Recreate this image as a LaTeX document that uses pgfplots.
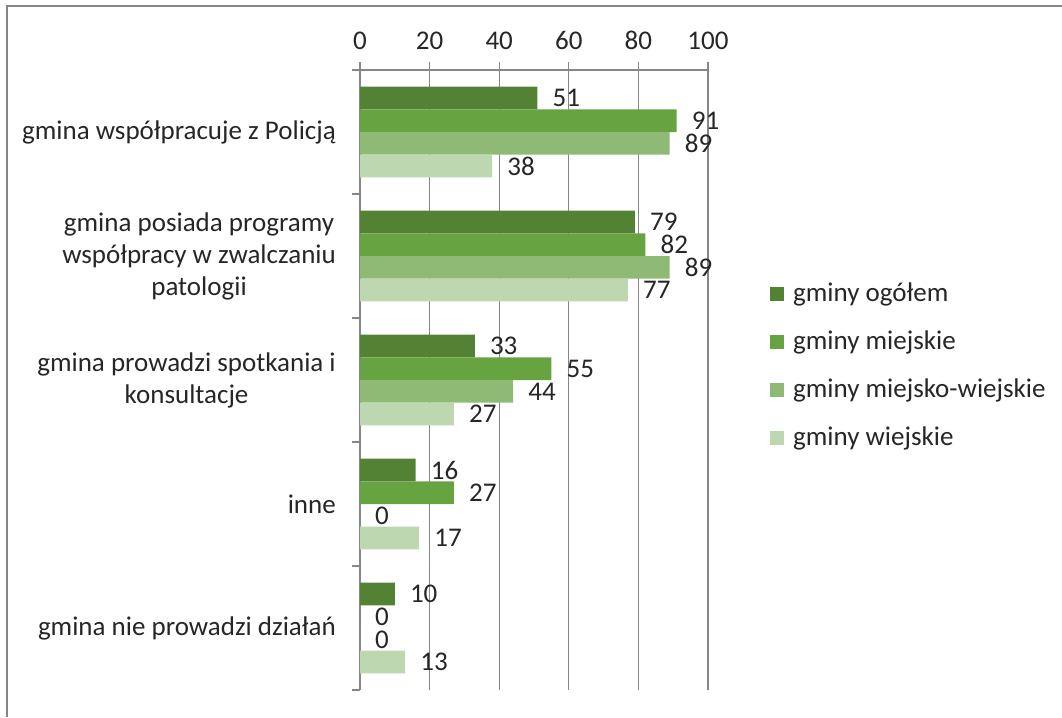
\documentclass[border=0pt]{standalone}
\usepackage{pgfplots}
\pgfplotsset{compat=1.18}
\usepackage{fontspec}
\setmainfont{Carlito}
\definecolor{c1}{HTML}{548235}
\definecolor{c2}{HTML}{68A342}
\definecolor{c3}{HTML}{8EBA76}
\definecolor{c4}{HTML}{BDD7B0}
\definecolor{axgray}{HTML}{868686}
\definecolor{txt}{HTML}{262626}
\begin{document}
\fontsize{27}{32}\selectfont
\begin{tikzpicture}
\useasboundingbox (0pt,0pt) rectangle (1062pt,-717pt);
\draw[axgray, line width=2pt] (7pt,-717pt) -- (7pt,-6pt) -- (1062pt,-6pt);
\begin{axis}[
  at={(360pt,-690pt)}, anchor=south west,
  scale only axis, width=348pt, height=620pt,
  xbar, bar width=22.7pt,
  xmin=0, xmax=100, ymin=-0.5, ymax=4.5, y dir=reverse,
  axis x line*=top, axis y line*=left,
  axis line style={axgray, line width=1.3pt},
  xtick={0,20,...,100},
  xmajorgrids, grid style={axgray, line width=1.3pt},
  tick align=outside, major tick length=8pt,
  tick style={axgray, line width=1.3pt},
  ytick={-0.5,0.5,1.5,2.5,3.5,4.5}, yticklabels={},
  extra y ticks={0,1,2,3,4},
  extra y tick labels={gmina współpracuje z Policją, {gmina posiada programy\\współpracy w zwalczaniu\\patologii}, {gmina prowadzi spotkania i\\konsultacje}, inne, gmina nie prowadzi działań},
  extra y tick style={major tick length=0pt, yticklabel style={align=center, anchor=east, inner sep=0pt, xshift=-24pt}},
  xticklabel style={text=txt, inner sep=0pt, yshift=12pt},
  yticklabel style={text=txt},
  /pgf/number format/assume math mode=true,
  nodes near coords,
  every node near coord/.append style={anchor=west, inner sep=0pt, xshift=15pt, text=txt},
  legend style={at={(1.178,0.66)}, anchor=north west, draw=none, fill=none, inner sep=0pt, row sep=21pt, column sep=7pt, text=txt},
  legend cell align=left,
  legend image code/.code={\draw[#1, draw=none] (0pt,-7pt) rectangle (14pt,7pt);},
]
\addplot[fill=c1, draw=none, bar shift=34pt] coordinates {(51,0) (79,1) (33,2) (16,3) (10,4)};
\addplot[fill=c2, draw=none, bar shift=11.35pt] coordinates {(91,0) (82,1) (55,2) (27,3) (0,4)};
\addplot[fill=c3, draw=none, bar shift=-11.35pt] coordinates {(89,0) (89,1) (44,2) (0,3) (0,4)};
\addplot[fill=c4, draw=none, bar shift=-34pt] coordinates {(38,0) (77,1) (27,2) (17,3) (13,4)};
\legend{gminy ogółem, gminy miejskie, gminy miejsko-wiejskie, gminy wiejskie}
\end{axis}
\end{tikzpicture}
\end{document}
